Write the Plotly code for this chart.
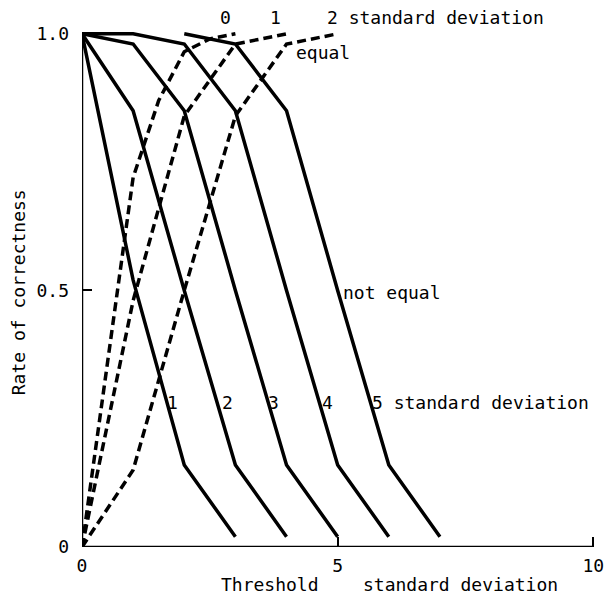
import plotly.graph_objects as go

# Solid curves ("not equal"), standard deviation 1..5
ne_x = {
    "1": [0, 1, 2, 3],
    "2": [0, 1, 2, 3, 4],
    "3": [0, 1, 2, 3, 4, 5],
    "4": [0, 1, 2, 3, 4, 5, 6],
    "5": [2, 3, 4, 5, 6, 7],
}
ne_y = {
    "1": [1.0, 0.52, 0.16, 0.02],
    "2": [1.0, 0.85, 0.5, 0.16, 0.02],
    "3": [1.0, 0.98, 0.85, 0.5, 0.16, 0.02],
    "4": [1.0, 1.0, 0.98, 0.85, 0.5, 0.16, 0.02],
    "5": [1.0, 0.98, 0.85, 0.5, 0.16, 0.02],
}
# Dashed curves ("equal"), standard deviation 0..2
eq_x = {
    "0": [0, 1, 1.5, 2, 2.5, 3],
    "1": [0, 1, 2, 3, 4],
    "2": [0, 1, 2, 3, 4, 5],
}
eq_y = {
    "0": [0.0, 0.72, 0.87, 0.965, 0.99, 1.0],
    "1": [0.0, 0.48, 0.84, 0.98, 1.0],
    "2": [0.0, 0.15, 0.5, 0.84, 0.98, 1.0],
}
x_ticks = [0, 5, 10]
x_ticklabels = ["0", "5", "10"]
y_ticks = [0, 0.5, 1.0]
y_ticklabels = ["0", "0.5", "1.0"]

FONT = "DejaVu Sans Mono"
FS = 18

# pixel geometry of the plotting area
PX0, PX_PER_X = 82, 51.4
PY0, PX_PER_Y = 547, 513
X_MAX, Y_MAX = 10.15, 1.06
W, H = 605, 598
plot_w = X_MAX * PX_PER_X
plot_h = Y_MAX * PX_PER_Y
top = PY0 - plot_h


def paper_x(px):
    return (px - PX0) / plot_w


def paper_y(py):
    return (PY0 - py) / plot_h


fig = go.Figure()
for k in ne_x:
    fig.add_trace(go.Scatter(x=ne_x[k], y=ne_y[k], mode="lines",
                             line=dict(color="black", width=3.5), showlegend=False))
for k in eq_x:
    fig.add_trace(go.Scatter(x=eq_x[k], y=eq_y[k], mode="lines",
                             line=dict(color="black", width=3.5, dash="9px,5px"),
                             showlegend=False))

# axes lines
fig.add_shape(type="line", x0=0, x1=10, y0=0, y1=0, line=dict(color="black", width=2.5))
fig.add_shape(type="line", x0=0, x1=0, y0=0, y1=1.0, line=dict(color="black", width=2.5))

ann = [
    (2.80, 1.031, "0", "center"),
    (3.79, 1.031, "1", "center"),
    (4.75, 1.031, "2 standard deviation", "left"),
    (4.14, 0.963, "equal", "left"),
    (5.07, 0.495, "not equal", "left"),
    (1.77, 0.281, "1", "center"),
    (2.84, 0.281, "2", "center"),
    (3.75, 0.281, "3", "center"),
    (4.80, 0.281, "4", "center"),
    (5.63, 0.281, "5 standard deviation", "left"),
]
for x, y, t, a in ann:
    fig.add_annotation(x=x, y=y, text=t, showarrow=False, xanchor=a, yanchor="middle",
                       font=dict(family=FONT, size=FS, color="black"))

fig.add_annotation(xref="paper", yref="paper", x=paper_x(220), y=paper_y(584),
                   text="Threshold", showarrow=False, xanchor="left", yanchor="middle",
                   font=dict(family=FONT, size=FS, color="black"))
fig.add_annotation(xref="paper", yref="paper", x=paper_x(362), y=paper_y(584),
                   text="standard deviation", showarrow=False, xanchor="left", yanchor="middle",
                   font=dict(family=FONT, size=FS, color="black"))
fig.add_annotation(xref="paper", yref="paper", x=paper_x(19), y=paper_y(292),
                   text="Rate of correctness", textangle=-90,
                   showarrow=False, xanchor="center", yanchor="middle",
                   font=dict(family=FONT, size=FS, color="black"))

fig.update_layout(
    width=W, height=H,
    margin=dict(l=PX0, r=W - PX0 - plot_w, t=top, b=H - PY0),
    paper_bgcolor="white", plot_bgcolor="white",
    font=dict(family=FONT, size=FS, color="black"),
    xaxis=dict(range=[0, X_MAX], tickvals=x_ticks, ticktext=x_ticklabels,
               ticks="inside", ticklen=10, tickwidth=2, tickcolor="black",
               showgrid=False, zeroline=False, showline=False, ticklabelstandoff=6,
               ticklabeloverflow="allow"),
    yaxis=dict(range=[0, Y_MAX], tickvals=y_ticks, ticktext=y_ticklabels,
               ticks="inside", ticklen=10, tickwidth=2, tickcolor="black",
               showgrid=False, zeroline=False, showline=False, ticklabelstandoff=12,
               ticklabeloverflow="allow"),
)
fig.write_html("out.html")
